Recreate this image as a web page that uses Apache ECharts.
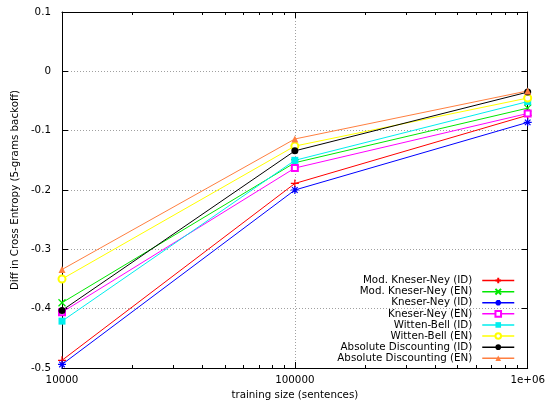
<!DOCTYPE html>
<html><head><meta charset="utf-8">
<script src="https://cdn.jsdelivr.net/npm/echarts@6/dist/echarts.min.js"></script>
<style>html,body{margin:0;padding:0;background:#fff}#c{width:548px;height:407px}</style>
</head><body><div id="c"></div>
<script>
const trainingSizes = [10000, 100000, 1000000];
const seriesNames = ['Mod. Kneser-Ney (ID)', 'Mod. Kneser-Ney (EN)', 'Kneser-Ney (ID)', 'Kneser-Ney (EN)',
  'Witten-Bell (ID)', 'Witten-Bell (EN)', 'Absolute Discounting (ID)', 'Absolute Discounting (EN)'];
const modKneserNeyID = [-0.487, -0.189, -0.074];
const modKneserNeyEN = [-0.390, -0.154, -0.062];
const kneserNeyID = [-0.494, -0.200, -0.086];
const kneserNeyEN = [-0.406, -0.163, -0.071];
const wittenBellID = [-0.421, -0.150, -0.051];
const wittenBellEN = [-0.350, -0.126, -0.045];
const absDiscountingID = [-0.403, -0.134, -0.035];
const absDiscountingEN = [-0.334, -0.114, -0.033];
const seriesValues = [modKneserNeyID, modKneserNeyEN, kneserNeyID, kneserNeyEN,
  wittenBellID, wittenBellEN, absDiscountingID, absDiscountingEN];
const xMajorTicks = [10000, 100000, 1000000];
const xMinorTicks = [20000, 30000, 40000, 50000, 60000, 70000, 80000, 90000,
  200000, 300000, 400000, 500000, 600000, 700000, 800000, 900000];
const xTickLabels = ['10000', '100000', '1e+06'];

const colors = ['#ff0000', '#00e800', '#0000ff', '#ff00ff', '#00eeee', '#ffff00', '#000000', '#ff7f40'];
const symbols = [
  'path://M5,0L5,10M0,5L10,5',
  'path://M0,0L10,10M10,0L0,10',
  'path://M5,0L5,10M0,5L10,5M1.5,1.5L8.5,8.5M8.5,1.5L1.5,8.5',
  'emptyRect', 'rect', 'emptyCircle', 'circle', 'triangle'
];
const symbolSizes = [8, 7, 8, 6, 7, 7, 7, 7];
const FONT = 'DejaVu Sans';
const FS = 10.3;

const series = seriesNames.map((name, i) => ({
  name,
  type: 'line',
  xAxisIndex: 0,
  yAxisIndex: 0,
  data: trainingSizes.map((x, j) => [x, seriesValues[i][j]]),
  symbol: symbols[i],
  symbolSize: symbolSizes[i],
  showAllSymbol: true,
  lineStyle: { color: colors[i], width: 1 },
  itemStyle: { color: i < 3 ? 'none' : colors[i], borderColor: colors[i], borderWidth: i < 3 ? 1.2 : (symbols[i].startsWith('empty') ? 1 : 0) },
  emphasis: { disabled: true },
  animation: false
}));

const tickFmt = v => (Math.round(v * 10) / 10).toString();

const chart = echarts.init(document.getElementById('c'), null, { renderer: 'canvas' });
chart.setOption({
  backgroundColor: '#ffffff',
  animation: false,
  textStyle: { fontFamily: FONT },
  grid: { left: 62, right: 19, top: 12, bottom: 39, containLabel: false },
  legend: {
    orient: 'vertical',
    right: 33,
    top: 275,
    align: 'right',
    itemWidth: 32,
    itemHeight: 7,
    itemGap: 0,
    padding: 0,
    selectedMode: false,
    lineStyle: { width: 1.5 },
    textStyle: { fontFamily: FONT, fontSize: FS, color: '#000', lineHeight: 11.1, padding: [0, 5, 0, 0] },
    data: seriesNames
  },
  xAxis: [
    {
      type: 'log', logBase: 10, min: 10000, max: 1000000, position: 'bottom',
      name: 'training size (sentences)', nameLocation: 'middle', nameGap: 22,
      nameTextStyle: { fontFamily: FONT, fontSize: FS, color: '#000' },
      axisLine: { onZero: false, lineStyle: { color: '#000', width: 1 } },
      axisTick: { inside: true, length: 6, lineStyle: { color: '#000' }, customValues: xMajorTicks },
      axisLabel: { customValues: xMajorTicks, margin: 7, fontFamily: FONT, fontSize: FS, color: '#000',
        formatter: v => xTickLabels[xMajorTicks.findIndex(t => Math.abs(t - v) / t < 1e-6)] },
      splitLine: { show: true, lineStyle: { color: '#a0a0a0', type: [1, 2], width: 1 } }
    },
    {
      type: 'log', logBase: 10, min: 10000, max: 1000000, position: 'bottom',
      axisLine: { show: false, onZero: false },
      axisTick: { inside: true, length: 3, lineStyle: { color: '#000' }, customValues: xMinorTicks },
      axisLabel: { show: false },
      splitLine: { show: false }
    },
    {
      type: 'log', logBase: 10, min: 10000, max: 1000000, position: 'top',
      axisLine: { onZero: false, lineStyle: { color: '#000', width: 1 } },
      axisTick: { inside: true, length: 6, lineStyle: { color: '#000' }, customValues: xMajorTicks },
      axisLabel: { show: false },
      splitLine: { show: false }
    },
    {
      type: 'log', logBase: 10, min: 10000, max: 1000000, position: 'top',
      axisLine: { show: false, onZero: false },
      axisTick: { inside: true, length: 3, lineStyle: { color: '#000' }, customValues: xMinorTicks },
      axisLabel: { show: false },
      splitLine: { show: false }
    }
  ],
  yAxis: [
    {
      type: 'value', min: -0.5, max: 0.1, interval: 0.1, position: 'left',
      name: 'Diff in Cross Entropy (5-grams backoff)', nameLocation: 'middle', nameGap: 40,
      nameTextStyle: { fontFamily: FONT, fontSize: FS, color: '#000' },
      axisLine: { show: true, onZero: false, lineStyle: { color: '#000', width: 1 } },
      axisTick: { show: true, inside: true, length: 6, lineStyle: { color: '#000' } },
      axisLabel: { margin: 11, fontFamily: FONT, fontSize: FS, color: '#000', formatter: tickFmt },
      splitLine: { show: true, lineStyle: { color: '#a0a0a0', type: [1, 2], width: 1 } }
    },
    {
      type: 'value', min: -0.5, max: 0.1, interval: 0.1, position: 'right',
      axisLine: { show: true, onZero: false, lineStyle: { color: '#000', width: 1 } },
      axisTick: { show: true, inside: true, length: 6, lineStyle: { color: '#000' } },
      axisLabel: { show: false },
      splitLine: { show: false }
    }
  ],
  series
});
</script></body></html>
